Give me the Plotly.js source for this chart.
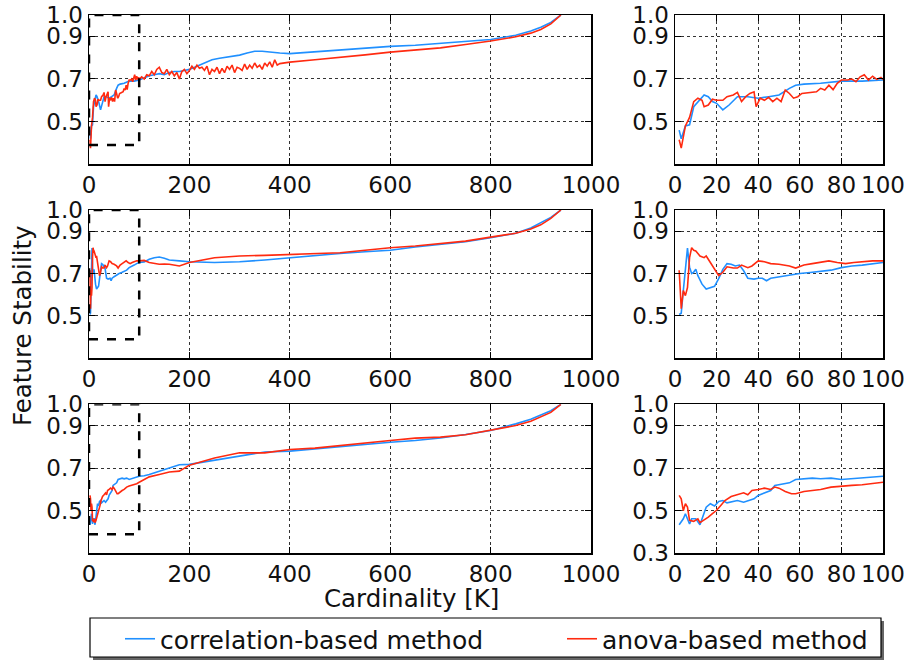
<!DOCTYPE html>
<html>
<head>
<meta charset="utf-8">
<script src="https://cdn.plot.ly/plotly-3.0.1.min.js"></script>
<style>html,body{margin:0;padding:0;background:#fff;}#chart{width:909px;height:662px;}</style>
</head>
<body>
<div id="chart"></div>
<script>
// ---------- DATA ----------
const seriesNames = ["correlation-based method", "anova-based method"];
const leftTicks = [0, 200, 400, 600, 800, 1000];
const rightTicks = [0, 20, 40, 60, 80, 100];
const yTicks = [0.5, 0.7, 0.9, 1.0];
const yTicksLast = [0.3, 0.5, 0.7, 0.9, 1.0];

// Panel 1 (top) – detail K = 1..100
const p1CorrDX = [2,3,5,7,9,12,14,16,18,20,23,26,30,35,40,45,50,55,58,62,70,80,90,100];
const p1CorrDY = [0.46,0.42,0.48,0.485,0.57,0.60,0.625,0.617,0.594,0.586,0.555,0.578,0.617,0.617,0.61,0.617,0.625,0.656,0.671,0.676,0.68,0.69,0.69,0.695];
const p1AnovDX = [2,3,5,7,9,11,13,14,16,18,20,23,25,28,30,32,34,36,38,39,41,43,45,47,49,51,53,55,57,59,61,65,68,70,72,74,76,78,80,83,85,87,89,91,93,95,97,99,100];
const p1AnovDY = [0.415,0.376,0.48,0.52,0.594,0.61,0.60,0.57,0.578,0.605,0.60,0.60,0.617,0.625,0.637,0.594,0.617,0.632,0.64,0.57,0.61,0.60,0.614,0.594,0.61,0.594,0.648,0.632,0.61,0.617,0.632,0.637,0.64,0.656,0.648,0.671,0.65,0.68,0.695,0.695,0.70,0.687,0.71,0.72,0.695,0.713,0.698,0.707,0.698];
// Panel 1 – rest of the range
const p1CorrTX = [110,120,130,140,150,160,170,180,190,200,215,230,245,260,280,300,315,330,345,360,380,400,450,500,550,600,650,700,750,800,850,880,900,920,940];
const p1CorrTY = [0.705,0.715,0.72,0.725,0.72,0.73,0.735,0.735,0.74,0.745,0.76,0.775,0.79,0.797,0.805,0.812,0.822,0.83,0.83,0.828,0.822,0.819,0.827,0.838,0.846,0.853,0.858,0.866,0.875,0.885,0.905,0.925,0.943,0.965,1.0];
const p1AnovTX = [105,110,115,120,125,130,135,140,145,150,155,160,165,170,175,180,185,190,195,200,205,210,215,220,225,230,235,240,245,250,255,260,265,270,275,280,285,290,295,300,305,310,315,320,325,330,335,340,345,350,355,360,365,370,375,380,400,450,500,550,600,650,700,750,800,850,880,900,920,940];
const p1AnovTY = [0.71,0.70,0.72,0.715,0.735,0.72,0.745,0.755,0.73,0.725,0.745,0.72,0.735,0.715,0.73,0.70,0.735,0.745,0.725,0.74,0.76,0.745,0.765,0.75,0.755,0.74,0.76,0.72,0.745,0.735,0.755,0.725,0.75,0.73,0.76,0.745,0.765,0.73,0.755,0.75,0.74,0.77,0.745,0.765,0.75,0.775,0.755,0.765,0.745,0.775,0.76,0.78,0.755,0.79,0.765,0.772,0.779,0.79,0.80,0.813,0.826,0.836,0.846,0.862,0.878,0.898,0.915,0.932,0.958,1.0];

// Panel 2 (middle) – detail
const p2CorrDX = [2,3,4,5,6,7,8,9,10,11,13,15,17,19,21,23,25,27,29,31,33,35,38,40,42,44,46,50,55,60,65,70,75,80,85,90,95,100];
const p2CorrDY = [0.507,0.513,0.62,0.73,0.82,0.73,0.70,0.707,0.72,0.69,0.65,0.627,0.634,0.64,0.676,0.72,0.747,0.744,0.736,0.74,0.713,0.678,0.674,0.678,0.678,0.666,0.678,0.685,0.694,0.70,0.705,0.71,0.716,0.728,0.736,0.74,0.747,0.752];
const p2AnovDX = [2,3,4,5,6,7,8,9,10,12,14,15,17,19,21,23,25,28,30,32,35,37,40,43,46,50,55,58,62,66,70,74,78,82,86,90,95,100];
const p2AnovDY = [0.716,0.534,0.62,0.596,0.634,0.775,0.822,0.81,0.807,0.783,0.775,0.783,0.752,0.72,0.69,0.706,0.732,0.726,0.726,0.74,0.728,0.736,0.76,0.756,0.747,0.744,0.736,0.726,0.74,0.747,0.752,0.76,0.752,0.747,0.752,0.756,0.76,0.76];
// Panel 2 – rest
const p2TX = [110,120,130,140,150,160,180,200,250,300,350,400,450,500,550,600,650,700,750,800,850,880,900,920,940];
const p2CorrTY = [0.755,0.767,0.775,0.778,0.772,0.764,0.76,0.756,0.752,0.756,0.764,0.775,0.787,0.795,0.803,0.81,0.825,0.837,0.85,0.869,0.89,0.915,0.94,0.965,1.0];
const p2AnovTY = [0.762,0.752,0.748,0.744,0.745,0.744,0.736,0.752,0.775,0.783,0.786,0.79,0.795,0.798,0.81,0.822,0.83,0.84,0.853,0.872,0.89,0.91,0.93,0.96,1.0];

// Panel 3 (bottom) – detail
const p3CorrDX = [2,4,5,6,7,8,10,12,13,15,17,19,21,23,25,28,30,33,36,38,40,43,46,48,52,55,58,62,66,70,75,80,85,90,95,100];
const p3CorrDY = [0.434,0.462,0.486,0.462,0.438,0.462,0.462,0.434,0.462,0.517,0.533,0.522,0.544,0.548,0.537,0.544,0.548,0.54,0.548,0.556,0.572,0.584,0.595,0.619,0.625,0.631,0.647,0.65,0.653,0.65,0.653,0.647,0.65,0.653,0.656,0.662];
const p3AnovDX = [2,3,4,5,6,7,9,11,12,14,16,18,20,22,24,27,30,33,35,37,40,43,46,48,50,53,56,58,62,66,70,75,80,85,90,95,100];
const p3AnovDY = [0.572,0.556,0.50,0.533,0.517,0.455,0.45,0.462,0.444,0.455,0.47,0.486,0.502,0.525,0.548,0.567,0.575,0.584,0.575,0.595,0.60,0.606,0.60,0.611,0.606,0.59,0.58,0.58,0.59,0.595,0.60,0.611,0.616,0.619,0.622,0.627,0.634];
// Panel 3 – rest
const p3TX = [110,120,140,160,180,200,250,300,350,400,450,500,550,600,650,700,750,800,850,880,900,920,940];
const p3CorrTY = [0.664,0.67,0.686,0.70,0.716,0.718,0.737,0.757,0.776,0.78,0.791,0.803,0.814,0.822,0.83,0.842,0.858,0.877,0.908,0.93,0.95,0.97,1.0];
const p3AnovTY = [0.645,0.659,0.67,0.682,0.686,0.714,0.748,0.772,0.772,0.788,0.794,0.807,0.819,0.83,0.841,0.846,0.857,0.877,0.90,0.92,0.94,0.962,1.0];

// zoom box drawn on the left panels
const zoomBox = {x0: 0, x1: 100, y0: 0.39, y1: 1.0};

// ---------- STYLE ----------
const BLUE = '#2090ff', RED = '#ff2a10';
const FONT = '"DejaVu Sans", "Liberation Sans", sans-serif';
const W = 909, H = 662;
const TICK = 23, TITLE = 24.5, LEG = 25;

const panels = [
  {cx: p1CorrDX, cy: p1CorrDY, ax: p1AnovDX, ay: p1AnovDY, ctx: p1CorrTX, cty: p1CorrTY, atx: p1AnovTX, aty: p1AnovTY},
  {cx: p2CorrDX, cy: p2CorrDY, ax: p2AnovDX, ay: p2AnovDY, ctx: p2TX, cty: p2CorrTY, atx: p2TX, aty: p2AnovTY},
  {cx: p3CorrDX, cy: p3CorrDY, ax: p3AnovDX, ay: p3AnovDY, ctx: p3TX, cty: p3CorrTY, atx: p3TX, aty: p3AnovTY}
];

const yDomains = [
  [1 - 164.3 / H, 1 - 15 / H],
  [1 - 358.3 / H, 1 - 210 / H],
  [1 - 553.3 / H, 1 - 404.3 / H]
];
const leftDom = [89 / W, 591 / W];
const rightDom = [675 / W, 883 / W];

function legendBox(xpx) {
  return {
    orientation: 'h', x: xpx / W, xanchor: 'left', y: 1 - 616 / H, yanchor: 'top',
    bgcolor: 'rgba(0,0,0,0)', borderwidth: 0,
    font: {family: FONT, size: LEG, color: '#111'}
  };
}

const traces = [];
const layout = {
  width: W, height: H,
  margin: {l: 0, r: 0, t: 0, b: 0, autoexpand: false},
  paper_bgcolor: '#fff', plot_bgcolor: '#fff',
  font: {family: FONT, size: TICK, color: '#111'},
  showlegend: true,
  legend: legendBox(120),
  legend2: legendBox(562),
  shapes: [],
  annotations: [
    {text: 'Cardinality [K]', xref: 'paper', yref: 'paper', x: 411 / W, y: 1 - 598 / H,
     showarrow: false, xanchor: 'center', yanchor: 'middle', font: {family: FONT, size: TITLE, color: '#111'}},
    {text: 'Feature Stability', xref: 'paper', yref: 'paper', x: 22 / W, y: 1 - 326 / H, textangle: -90,
     showarrow: false, xanchor: 'center', yanchor: 'middle', font: {family: FONT, size: TITLE, color: '#111'}}
  ]
};

function axisBase() {
  return {
    showline: true, linecolor: '#000', linewidth: 1.5, mirror: 'ticks',
    ticks: 'inside', ticklen: 6, tickcolor: '#000', tickwidth: 1,
    showgrid: true, gridcolor: '#333', griddash: 'dot', gridwidth: 1,
    zeroline: false, automargin: false, fixedrange: true,
    tickfont: {family: FONT, size: TICK, color: '#111'}
  };
}

panels.forEach((p, i) => {
  const nL = 2 * i + 1, nR = 2 * i + 2;
  const xL = nL === 1 ? 'x' : 'x' + nL, yL = nL === 1 ? 'y' : 'y' + nL;
  const xR = 'x' + nR, yR = 'y' + nR;
  traces.push({x: p.cx.concat(p.ctx), y: p.cy.concat(p.cty), xaxis: xL, yaxis: yL, type: 'scatter', mode: 'lines',
    line: {color: BLUE, width: 1.6}, name: seriesNames[0], legend: 'legend', showlegend: i === 0});
  traces.push({x: p.ax.concat(p.atx), y: p.ay.concat(p.aty), xaxis: xL, yaxis: yL, type: 'scatter', mode: 'lines',
    line: {color: RED, width: 1.6}, name: seriesNames[1], legend: 'legend2', showlegend: i === 0});
  traces.push({x: p.cx, y: p.cy, xaxis: xR, yaxis: yR, type: 'scatter', mode: 'lines',
    line: {color: BLUE, width: 1.6}, name: seriesNames[0], showlegend: false});
  traces.push({x: p.ax, y: p.ay, xaxis: xR, yaxis: yR, type: 'scatter', mode: 'lines',
    line: {color: RED, width: 1.6}, name: seriesNames[1], showlegend: false});

  const xaL = Object.assign(axisBase(), {domain: leftDom, anchor: yL, range: [0, 1000], tickvals: leftTicks, ticktext: leftTicks.map(String)});
  const xaR = Object.assign(axisBase(), {domain: rightDom, anchor: yR, range: [0, 100], tickvals: rightTicks, ticktext: rightTicks.map(String)});
  const yaL = Object.assign(axisBase(), {domain: yDomains[i], anchor: xL, range: [0.3, 1.0], tickvals: yTicks, ticktext: yTicks.map(v => v.toFixed(1))});
  const yvR = i === 2 ? yTicksLast : yTicks;
  const yaR = Object.assign(axisBase(), {domain: yDomains[i], anchor: xR, range: [0.3, 1.0], tickvals: yvR, ticktext: yvR.map(v => v.toFixed(1))});
  layout[nL === 1 ? 'xaxis' : 'xaxis' + nL] = xaL;
  layout[nL === 1 ? 'yaxis' : 'yaxis' + nL] = yaL;
  layout['xaxis' + nR] = xaR;
  layout['yaxis' + nR] = yaR;

  layout.shapes.push({type: 'rect', xref: xL, yref: yL, x0: zoomBox.x0, x1: zoomBox.x1, y0: zoomBox.y0, y1: zoomBox.y1,
    line: {color: '#000', width: 2.5, dash: 'dash'}, fillcolor: 'rgba(0,0,0,0)', layer: 'above'});
});

// legend frame with shadow
layout.shapes.push({type: 'rect', xref: 'paper', yref: 'paper', x0: 93 / W, x1: 884 / W, y0: 1 - 660 / H, y1: 1 - 621 / H,
  line: {width: 0}, fillcolor: '#666', layer: 'above'});
layout.shapes.push({type: 'rect', xref: 'paper', yref: 'paper', x0: 90 / W, x1: 881 / W, y0: 1 - 657 / H, y1: 1 - 618 / H,
  line: {color: '#000', width: 1.2}, fillcolor: '#fff', layer: 'above'});

Plotly.newPlot('chart', traces, layout, {displayModeBar: false, staticPlot: true});
</script>
</body>
</html>
